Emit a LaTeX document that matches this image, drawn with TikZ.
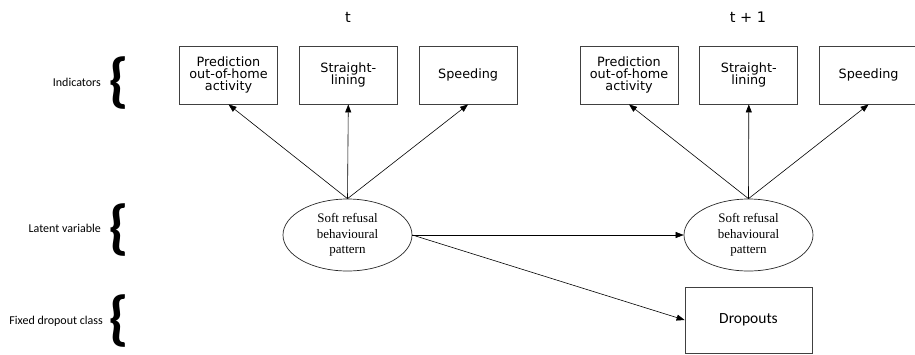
\documentclass[tikz,border=0pt]{standalone}
\usepackage{fontspec}
\setmainfont{Liberation Serif}
\newfontfamily\verdfont{DejaVu Sans}
\newfontfamily\calibrifont{Carlito}
\usetikzlibrary{arrows.meta,positioning,shapes.geometric}

\begin{document}
\begin{tikzpicture}[
  x=1pt, y=-1pt,
  ind/.style={draw=black!75, line width=0.8pt, minimum width=98pt, minimum height=58pt, align=center, inner sep=1pt, font=\verdfont\fontsize{12.8}{12.4}\selectfont},
  lat/.style={ellipse, draw=black!85, line width=0.7pt, minimum width=129pt, minimum height=72pt, align=center, inner sep=0pt, font=\fontsize{13}{15.7}\selectfont},
  drop/.style={draw=black!75, line width=0.8pt, minimum width=127pt, minimum height=66pt, font=\calibrifont\fontsize{15.5}{18}\selectfont},
  lbl/.style={anchor=east, inner sep=0pt, font=\calibrifont\fontsize{12}{14}\selectfont},
  brace/.style={inner sep=0pt, font=\calibrifont\bfseries\fontsize{60}{60}\selectfont},
  ttl/.style={font=\verdfont\fontsize{14.5}{16}\selectfont},
  arr/.style={-{Triangle[length=8pt,width=6pt]}, line width=0.6pt},
  node distance=21pt
]
\useasboundingbox (0,0) rectangle (915,354);

% row labels
\node[lbl] (lind) at (101,82) {Indicators};
\node[brace] (bind) at (119,83.5) {\{};
\node[lbl] (llat) at (101,228) {Latent variable};
\node[brace] (blat) at (119,230.5) {\{};
\node[lbl] (ldrop) at (103,321) {Fixed dropout class};
\node[brace] (bdrop) at (119,321) {\{};

% time t
\node[ttl] (tA) at (348,17) {t};
\node[ind] (predA) at (228.5,75) {Prediction\\out-of-home\\activity};
\node[ind, right=of predA] (straA) {Straight-\\lining};
\node[ind, right=of straA] (speedA) {Speeding};
\node[lat] (softA) at (347.5,235) {Soft refusal\\behavioural\\pattern};

% time t+1
\node[ttl] (tB) at (748,17) {t + 1};
\node[ind] (predB) at (629,75) {Prediction\\out-of-home\\activity};
\node[ind, right=of predB] (straB) {Straight-\\lining};
\node[ind, right=of straB] (speedB) {Speeding};
\node[lat] (softB) at (748.5,235) {Soft refusal\\behavioural\\pattern};

\node[drop] (dropout) at (748.5,320) {Dropouts};

\draw[arr] (softA.north) -- (predA.south);
\draw[arr] (softA.north) -- (straA.south);
\draw[arr] (softA.north) -- (speedA.south);
\draw[arr] (softB.north) -- (predB.south);
\draw[arr] (softB.north) -- (straB.south);
\draw[arr] (softB.north) -- (speedB.south);
\draw[arr] (softA.east) -- (softB.west);
\draw[arr] (softA.east) -- (dropout.west);
\end{tikzpicture}
\end{document}
